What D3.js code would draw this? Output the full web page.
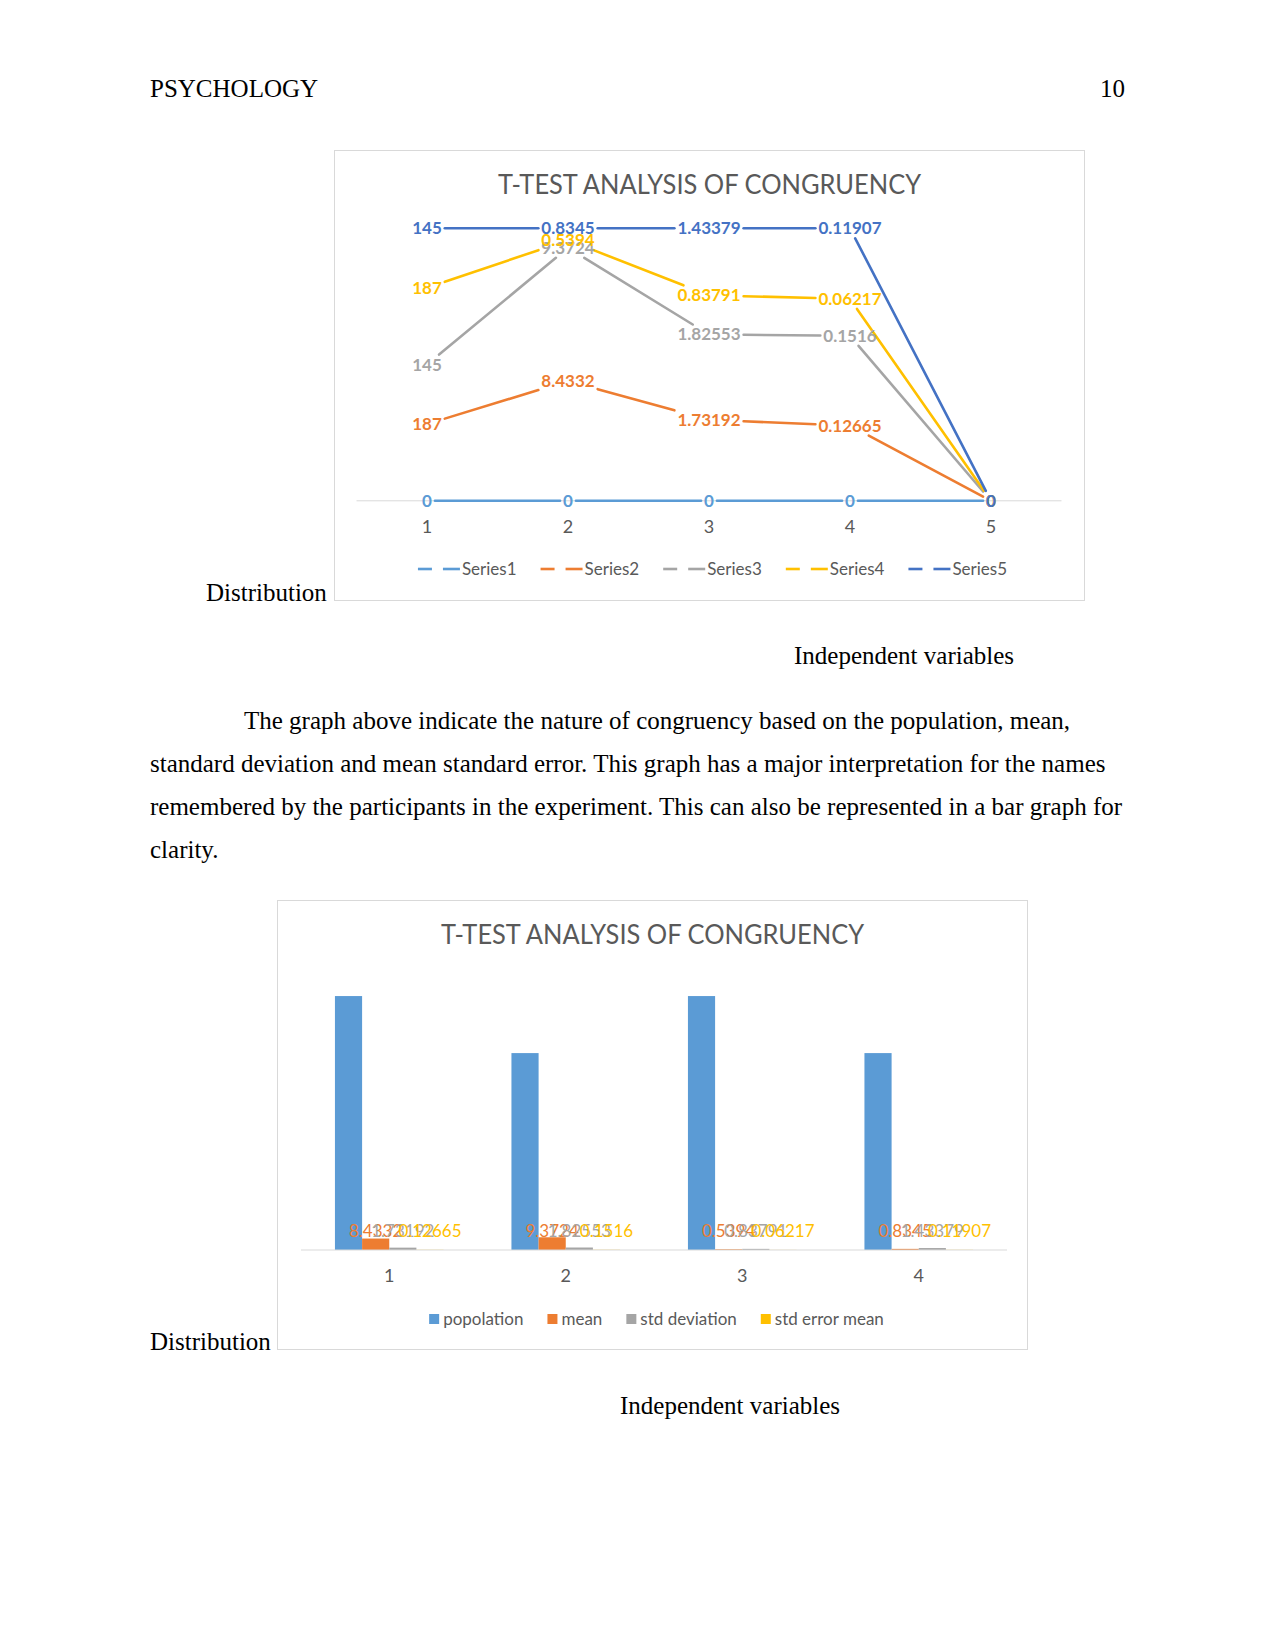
<!DOCTYPE html>
<html>
<head>
<meta charset="utf-8">
<script src="https://cdn.jsdelivr.net/npm/d3@7"></script>
<style>
  body { margin: 0; background: #fff; }
  .page { font-family: "Liberation Serif", "Times New Roman", serif; font-size: 25px; fill: #000; }
  .chartText { font-family: Lato, "Open Sans", sans-serif; }
</style>
</head>
<body>
<div id="page"></div>
<script>
// line chart data (100% stacked lines)
var lineCategories = [1, 2, 3, 4, 5];
var lineSeriesNames = ["Series1", "Series2", "Series3", "Series4", "Series5"];
var series1Values = [0, 0, 0, 0, 0];
var series2Values = [187, 8.4332, 1.73192, 0.12665, 0];
var series3Values = [145, 9.3724, 1.82553, 0.1516, 0];
var series4Values = [187, 0.5394, 0.83791, 0.06217, 0];
var series5Values = [145, 0.8345, 1.43379, 0.11907, 0];
var lineColors = ["#5B9BD5", "#ED7D31", "#A5A5A5", "#FFC000", "#4472C4"];

// bar chart data
var barCategories = [1, 2, 3, 4];
var barSeriesNames = ["popolation", "mean", "std deviation", "std error mean"];
var popolationValues = [187, 145, 187, 145];
var meanValues = [8.4332, 9.3724, 0.5394, 0.8345];
var stdDeviationValues = [1.73192, 1.82553, 0.83791, 1.43379];
var stdErrorMeanValues = [0.12665, 0.1516, 0.06217, 0.11907];
var barColors = ["#5B9BD5", "#ED7D31", "#A5A5A5", "#FFC000"];

var chartTitle = "T-TEST ANALYSIS OF CONGRUENCY";

var svg = d3.select("#page").append("svg")
    .attr("width", 1275)
    .attr("height", 1650)
    .style("display", "block");

svg.append("rect").attr("width", 1275).attr("height", 1650).attr("fill", "#fff");

drawPageText();
drawLineChart();
drawBarChart();

function drawPageText() {
  var page = svg.append("g").attr("class", "page");

  page.append("text").attr("x", 150).attr("y", 97).text("PSYCHOLOGY");
  page.append("text").attr("x", 1125).attr("y", 97).attr("text-anchor", "end").text("10");

  page.append("text").attr("x", 206).attr("y", 601).text("Distribution");
  page.append("text").attr("x", 794).attr("y", 664).text("Independent variables");

  var para = [
    {x: 244, y: 729, t: "The graph above indicate the nature of congruency based on the population, mean,"},
    {x: 150, y: 772, t: "standard deviation and mean standard error. This graph has a major interpretation for the names"},
    {x: 150, y: 815, t: "remembered by the participants in the experiment. This can also be represented in a bar graph for"},
    {x: 150, y: 858, t: "clarity."}
  ];
  page.selectAll(".para")
      .data(para)
      .enter().append("text")
      .attr("class", "para")
      .attr("x", function(d) { return d.x; })
      .attr("y", function(d) { return d.y; })
      .text(function(d) { return d.t; });

  page.append("text").attr("x", 150).attr("y", 1350).text("Distribution");
  page.append("text").attr("x", 620).attr("y", 1414).text("Independent variables");
}

function drawLineChart() {
  var box = {x: 334.5, y: 150.5, w: 750, h: 450};

  var g = svg.append("g").attr("class", "chartText");

  g.append("rect")
      .attr("x", box.x).attr("y", box.y)
      .attr("width", box.w).attr("height", box.h)
      .attr("fill", "#fff")
      .attr("stroke", "#D9D9D9");

  g.append("text")
      .attr("x", box.x + box.w / 2)
      .attr("y", 194)
      .attr("text-anchor", "middle")
      .attr("fill", "#595959")
      .style("font-size", "26px")
      .attr("textLength", 423)
      .attr("lengthAdjust", "spacingAndGlyphs")
      .text(chartTitle);

  var allValues = [series1Values, series2Values, series3Values, series4Values, series5Values];
  var table = lineCategories.map(function(c, i) {
    var row = {cat: c};
    lineSeriesNames.forEach(function(s, k) { row[s] = allValues[k][i]; });
    return row;
  });

  var stacked = d3.stack().keys(lineSeriesNames).offset(d3.stackOffsetExpand)(table);

  var x = d3.scalePoint().domain(lineCategories).range([356.5, 1061.5]).padding(0.5);
  var y = d3.scaleLinear().domain([0, 1]).range([500.8, 228.3]);

  // base axis line
  g.append("line")
      .attr("x1", x.range()[0]).attr("x2", x.range()[1])
      .attr("y1", y(0)).attr("y2", y(0))
      .attr("stroke", "#D9D9D9");

  var linesG = g.append("g");
  var labelsG = g.append("g");

  g.selectAll(".catLabel")
      .data(lineCategories)
      .enter().append("text")
      .attr("class", "catLabel")
      .attr("x", function(d) { return x(d); })
      .attr("y", 533)
      .attr("text-anchor", "middle")
      .attr("fill", "#595959")
      .style("font-size", "18px")
      .text(function(d) { return d; });

  var points = [];
  stacked.forEach(function(layer, k) {
    var pts = layer.map(function(d, i) {
      return {
        k: k,
        px: x(lineCategories[i]),
        py: y(d[1]),
        value: allValues[k][i]
      };
    });
    points.push(pts);
  });

  // labels first, so their boxes can cut the lines
  points.forEach(function(pts, k) {
    labelsG.selectAll(".lbl" + k)
        .data(pts)
        .enter().append("text")
        .attr("class", "lbl" + k)
        .attr("x", function(d) { return d.px; })
        .attr("y", function(d) { return d.py; })
        .attr("dy", "0.35em")
        .attr("text-anchor", "middle")
        .attr("fill", lineColors[k])
        .style("font-size", "17px")
        .style("font-weight", "bold")
        .text(function(d) { return String(d.value); })
        .each(function(d) { d.hw = this.getComputedTextLength() / 2 + 3; d.hh = 10; });
  });

  function cut(a, b, hw, hh) {
    // distance along a->b where it leaves the box around a
    var dx = b.px - a.px, dy = b.py - a.py;
    var tx = dx === 0 ? Infinity : hw / Math.abs(dx);
    var ty = dy === 0 ? Infinity : hh / Math.abs(dy);
    var t = Math.min(tx, ty);
    return {x: a.px + dx * t, y: a.py + dy * t, t: t};
  }

  points.forEach(function(pts, k) {
    var segs = [];
    for (var i = 0; i < pts.length - 1; i++) {
      var a = pts[i], b = pts[i + 1];
      var s = cut(a, b, a.hw, a.hh);
      var e = cut(b, a, b.hw, b.hh);
      if (s.t + e.t < 1) segs.push([s, e]);
    }
    linesG.selectAll(".seg" + k)
        .data(segs)
        .enter().append("line")
        .attr("class", "seg" + k)
        .attr("x1", function(d) { return d[0].x; })
        .attr("y1", function(d) { return d[0].y; })
        .attr("x2", function(d) { return d[1].x; })
        .attr("y2", function(d) { return d[1].y; })
        .attr("stroke", lineColors[k])
        .attr("stroke-width", 2.6)
        .attr("stroke-linecap", "round");
  });

  // legend
  var legend = g.append("g").attr("transform", "translate(0,569)");
  var cursor = 0;
  lineSeriesNames.forEach(function(name, k) {
    var item = legend.append("g").attr("transform", "translate(" + cursor + ",0)");
    item.append("line").attr("x1", 0).attr("x2", 14).attr("stroke", lineColors[k]).attr("stroke-width", 2.6);
    item.append("line").attr("x1", 25).attr("x2", 42).attr("stroke", lineColors[k]).attr("stroke-width", 2.6);
    var t = item.append("text")
        .attr("x", 44).attr("dy", "0.35em")
        .attr("fill", "#595959")
        .style("font-size", "17px")
        .text(name);
    cursor += 44 + t.node().getComputedTextLength() + 24;
  });
  cursor -= 24;
  legend.attr("transform", "translate(" + (box.x + box.w / 2 + 3 - cursor / 2) + ",569)");
}

function drawBarChart() {
  var box = {x: 277.5, y: 900.5, w: 750, h: 449};

  var g = svg.append("g").attr("class", "chartText");

  g.append("rect")
      .attr("x", box.x).attr("y", box.y)
      .attr("width", box.w).attr("height", box.h)
      .attr("fill", "#fff")
      .attr("stroke", "#D9D9D9");

  g.append("text")
      .attr("x", box.x + box.w / 2)
      .attr("y", 944)
      .attr("text-anchor", "middle")
      .attr("fill", "#595959")
      .style("font-size", "26px")
      .attr("textLength", 423)
      .attr("lengthAdjust", "spacingAndGlyphs")
      .text(chartTitle);

  var allValues = [popolationValues, meanValues, stdDeviationValues, stdErrorMeanValues];
  var rows = barCategories.map(function(c, i) {
    return {
      cat: c,
      bars: barSeriesNames.map(function(s, k) { return {key: s, k: k, value: allValues[k][i]}; })
    };
  });

  var x0 = d3.scaleBand().domain(barCategories).range([301, 1007]);
  var x1 = d3.scaleBand().domain(barSeriesNames).range([0, x0.bandwidth()]).paddingOuter(1.25);
  var y = d3.scaleLinear().domain([0, 200]).range([1250, 978.4]);

  var groups = g.selectAll(".barGroup")
      .data(rows)
      .enter().append("g")
      .attr("class", "barGroup")
      .attr("transform", function(d) { return "translate(" + x0(d.cat) + ",0)"; });

  groups.selectAll("rect")
      .data(function(d) { return d.bars; })
      .enter().append("rect")
      .attr("x", function(d) { return x1(d.key); })
      .attr("width", x1.bandwidth())
      .attr("y", function(d) { return y(d.value); })
      .attr("height", function(d) { return y(0) - y(d.value); })
      .attr("fill", function(d) { return barColors[d.k]; });

  g.append("line")
      .attr("x1", x0.range()[0]).attr("x2", x0.range()[1])
      .attr("y1", y(0)).attr("y2", y(0))
      .attr("stroke", "#D9D9D9");

  // value labels of the small series all sit just above the axis
  groups.selectAll(".barLabel")
      .data(function(d) { return d.bars.filter(function(b) { return b.k > 0; }); })
      .enter().append("text")
      .attr("class", "barLabel")
      .attr("x", function(d) { return x1(d.key) + x1.bandwidth() / 2; })
      .attr("y", y(0) - 13)
      .attr("text-anchor", "middle")
      .attr("fill", function(d) { return barColors[d.k]; })
      .style("font-size", "17px")
      .text(function(d) { return String(d.value); });

  g.selectAll(".catLabel")
      .data(barCategories)
      .enter().append("text")
      .attr("class", "catLabel")
      .attr("x", function(d) { return x0(d) + x0.bandwidth() / 2; })
      .attr("y", 1282)
      .attr("text-anchor", "middle")
      .attr("fill", "#595959")
      .style("font-size", "18px")
      .text(function(d) { return d; });

  var legend = g.append("g");
  var cursor = 0;
  barSeriesNames.forEach(function(name, k) {
    var item = legend.append("g").attr("transform", "translate(" + cursor + ",0)");
    item.append("rect").attr("x", 0).attr("y", -5).attr("width", 10).attr("height", 10).attr("fill", barColors[k]);
    var t = item.append("text")
        .attr("x", 14).attr("dy", "0.35em")
        .attr("fill", "#595959")
        .style("font-size", "17px")
        .text(name);
    cursor += 14 + t.node().getComputedTextLength() + 24;
  });
  cursor -= 24;
  legend.attr("transform", "translate(" + (box.x + box.w / 2 + 4 - cursor / 2) + ",1319)");
}
</script>
</body>
</html>
